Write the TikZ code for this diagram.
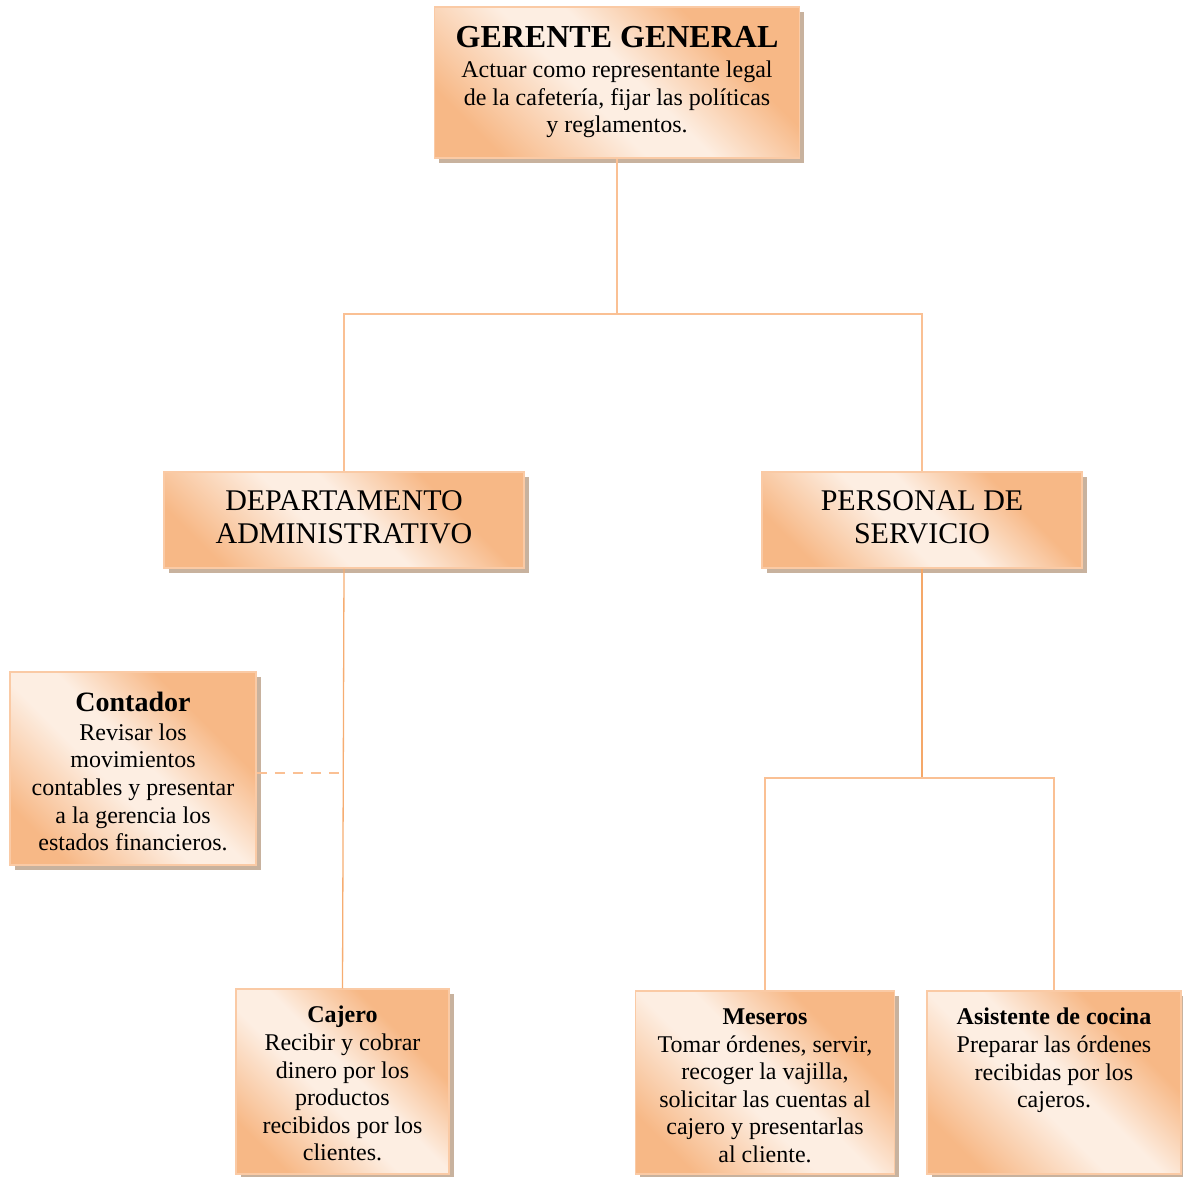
\documentclass[tikz,border=0pt]{standalone}
\usepackage{fontspec}
\setmainfont{Liberation Serif}
\usetikzlibrary{shadows}

\definecolor{boxorange}{RGB}{247,184,134}
\definecolor{boxlight}{RGB}{253,238,226}
\definecolor{boxedge}{RGB}{250,202,165}
\definecolor{shadowtan}{RGB}{200,178,158}
\definecolor{linkorange}{RGB}{250,192,148}
\definecolor{linkdark}{RGB}{245,168,105}

% diagonal peach fill: orange corners, soft light band across the middle
\pgfdeclareverticalshading{peachfill}{100bp}{%
  color(0bp)=(boxorange); color(24bp)=(boxorange); color(44bp)=(boxlight);
  color(53bp)=(boxlight); color(69bp)=(boxorange); color(100bp)=(boxorange)}

\newcommand{\bodyfont}{\fontsize{24}{27.6}\selectfont}
\newcommand{\headfont}[1]{\fontsize{#1}{#1}\selectfont\bfseries}

\tikzset{
  orgbox/.style={draw=boxedge, line width=1.5pt, inner sep=0pt,
    shading=peachfill, shading angle=-45,
    drop shadow={shadow xshift=4.5pt, shadow yshift=-4.5pt, fill=shadowtan, opacity=1}},
  boxtext/.style={anchor=north, inner sep=0pt, align=center, font=\bodyfont},
  link/.style={draw=linkorange, line width=2pt},
  thinlink/.style={draw=linkdark!80!linkorange, line width=1.3pt},
  darklink/.style={draw=linkdark, line width=2pt},
  sidelink/.style={draw=linkorange, line width=2pt, dash pattern=on 10pt off 8pt}
}

\begin{document}
\begin{tikzpicture}[x=1pt, y=-1pt]
\useasboundingbox (0,0) rectangle (1183,1176);

% boxes
\node[orgbox, minimum width=365pt, minimum height=151pt] (gg) at (617,82.5) {};
\node[orgbox, minimum width=360pt, minimum height=96pt]  (dp) at (344,520) {};
\node[orgbox, minimum width=320pt, minimum height=96pt]  (ps) at (922,520) {};
\node[orgbox, minimum width=246pt, minimum height=193pt] (ct) at (133,768.5) {};
\node[orgbox, minimum width=213pt, minimum height=185pt] (cj) at (342.5,1081.5) {};
\node[orgbox, minimum width=259pt, minimum height=183pt] (ms) at (765,1082.5) {};
\node[orgbox, minimum width=254pt, minimum height=183pt] (as) at (1054,1082.5) {};

% texts
\node[boxtext] (ggt) at (617,26.5) {{\headfont{32}GERENTE GENERAL}\\[2pt]
  Actuar como representante legal\\ de la cafetería, fijar las políticas\\ y reglamentos.};
\node[boxtext, font=\fontsize{30}{33}\selectfont] (dpt) at (344,490) {DEPARTAMENTO\\ ADMINISTRATIVO};
\node[boxtext, font=\fontsize{30}{33}\selectfont] (pst) at (922,490) {PERSONAL DE\\ SERVICIO};
\node[boxtext] (ctt) at (133,692) {{\headfont{28}Contador}\\[1pt]
  Revisar los\\ movimientos\\ contables y presentar\\ a la gerencia los\\ estados financieros.};
\node[boxtext] (cjt) at (342.5,1006) {{\headfont{24}Cajero}\\
  Recibir y cobrar\\ dinero por los\\ productos\\ recibidos por los\\ clientes.};
\node[boxtext] (mst) at (765,1008.5) {{\headfont{24}Meseros}\\
  Tomar órdenes, servir,\\ recoger la vajilla,\\ solicitar las cuentas al\\ cajero y presentarlas\\ al cliente.};
\node[boxtext] (ast) at (1054,1008) {{\headfont{24}Asistente de cocina}\\
  Preparar las órdenes\\ recibidas por los\\ cajeros.};

% connectors
\coordinate (top) at (617,314);
\coordinate (low) at (922,778);
\coordinate (dj) at (341,773);

\draw[link] (gg.south) -- (gg.south |- top);
\draw[link] (dp.north) |- (ps.north |- top) -- (ps.north);
\draw[thinlink] (dp.south) -- (cj.north);
\draw[darklink] (ps.south) -- (ps.south |- low);
\draw[link] (ms.north) |- (as.north |- low) -- (as.north);
\draw[sidelink] (ct.east |- dj) -- (dj);
\end{tikzpicture}
\end{document}
